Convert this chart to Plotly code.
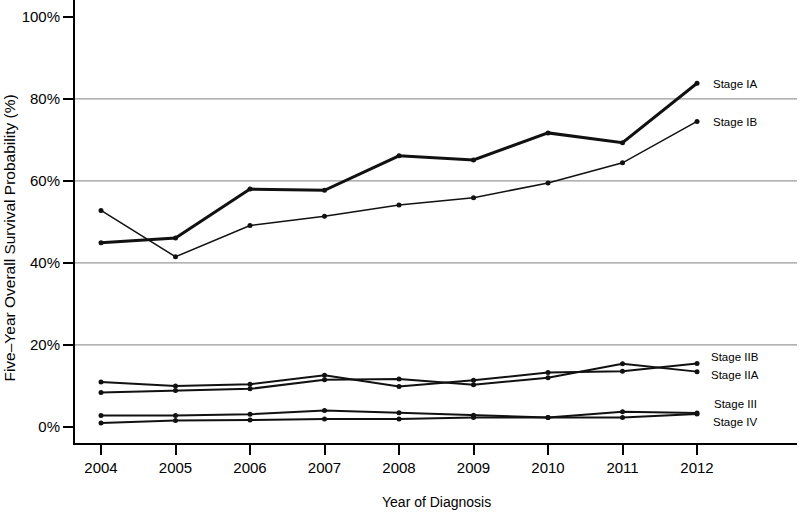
import plotly.graph_objects as go

years = [2004, 2005, 2006, 2007, 2008, 2009, 2010, 2011, 2012]
stage_ia = [44.9, 46.1, 58.0, 57.7, 66.1, 65.1, 71.7, 69.3, 83.8]
stage_ib = [52.8, 41.5, 49.1, 51.4, 54.1, 55.9, 59.5, 64.4, 74.5]
stage_iib = [11.0, 10.0, 10.4, 12.6, 9.9, 11.4, 13.3, 13.6, 15.5]
stage_iia = [8.4, 8.9, 9.3, 11.5, 11.7, 10.3, 12.0, 15.4, 13.5]
stage_iii = [2.8, 2.8, 3.1, 4.0, 3.5, 2.85, 2.3, 3.7, 3.4]
stage_iv = [1.0, 1.6, 1.7, 1.95, 1.95, 2.3, 2.3, 2.3, 3.2]

series_names = ["Stage IA", "Stage IB", "Stage IIB", "Stage IIA", "Stage III", "Stage IV"]
series_values = [stage_ia, stage_ib, stage_iib, stage_iia, stage_iii, stage_iv]
series_widths = [3, 1.5, 2, 2, 2, 2]
label_y = [83.7, 74.4, 17.1, 12.7, 5.6, 1.2]
label_x = 2012.51

y_ticks = [0, 20, 40, 60, 80, 100]
y_tick_labels = ["0%", "20%", "40%", "60%", "80%", "100%"]
grid_values = [20, 40, 60, 80]

font_family = "Liberation Sans, Arial, Helvetica, sans-serif"
ink = "#000000"

fig = go.Figure()
for name, vals, w in zip(series_names, series_values, series_widths):
    fig.add_trace(go.Scatter(
        x=years, y=vals, mode="lines+markers", name=name,
        line=dict(color="#111111", width=w),
        marker=dict(color="#111111", size=5),
        showlegend=False, hoverinfo="x+y+name",
    ))

shapes = []
for g in grid_values:
    shapes.append(dict(type="line", xref="paper", x0=0, x1=1, yref="y", y0=g, y1=g,
                       line=dict(color="#9a9a9a", width=1.2), layer="below"))

annotations = []
for name, ly in zip(series_names, label_y):
    annotations.append(dict(x=label_x, y=ly, xref="x", yref="y", text=name,
                            showarrow=False, xanchor="center", yanchor="middle",
                            font=dict(family=font_family, size=11.5, color=ink)))
annotations.append(dict(x=-0.0905, y=0.463, xref="paper", yref="paper",
                        text="Five\u2013Year Overall Survival Probability (%)", textangle=-90,
                        showarrow=False, xanchor="center", yanchor="middle",
                        font=dict(family=font_family, size=15.5, color=ink)))
annotations.append(dict(x=0.5, y=-0.133, xref="paper", yref="paper",
                        text="Year of Diagnosis",
                        showarrow=False, xanchor="center", yanchor="middle",
                        font=dict(family=font_family, size=14, color=ink)))

fig.update_layout(
    width=800, height=515,
    margin=dict(l=75, r=3, t=0, b=72),
    plot_bgcolor="white", paper_bgcolor="white",
    shapes=shapes, annotations=annotations,
    font=dict(family=font_family, color=ink),
    xaxis=dict(range=[2003.651, 2013.342], tickvals=years, ticktext=[str(y) for y in years],
               showgrid=False, zeroline=False, showline=True, linecolor="#000", linewidth=2,
               ticks="outside", ticklen=10, tickwidth=1.5, tickcolor="#000",
               tickfont=dict(size=15, family=font_family, color=ink)),
    yaxis=dict(range=[-3.9, 104.1], tickvals=y_ticks, ticktext=y_tick_labels,
               showgrid=False, zeroline=False, showline=True, linecolor="#000", linewidth=2,
               ticks="outside", ticklen=10, tickwidth=1.5, tickcolor="#000",
               tickfont=dict(size=15, family=font_family, color=ink)),
)

fig.write_html("out.html", config={"displayModeBar": False},
               post_script="document.body.style.margin='0';")
